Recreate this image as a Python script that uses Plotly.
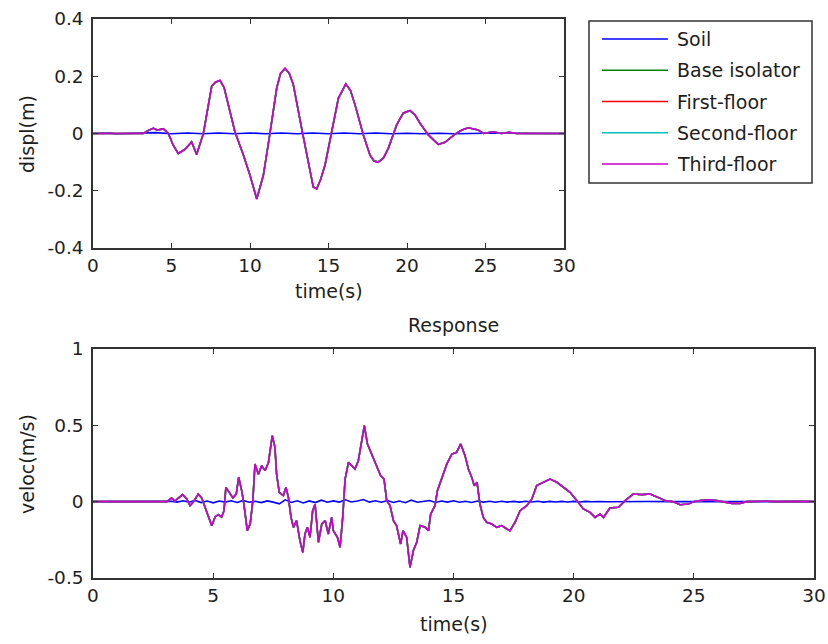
import plotly.graph_objects as go

W, H = 828, 644

# ---------------- data ----------------
series_names = ["Soil", "Base isolator", "First-floor", "Second-floor", "Third-floor"]
series_colors = ["#0000FF", "#008000", "#FF0000", "#00BFBF", "#CC00CC"]

# structure displacement (all floors overlap almost exactly)
disp_t = [0, 3.2, 3.5, 3.84, 4.1, 4.48, 4.8, 5.1, 5.43, 5.86, 6.28, 6.6, 7.03, 7.3, 7.56, 7.8,
          8.09, 8.35, 8.62, 9.04, 9.58, 10.0, 10.43, 10.85, 11.27, 11.7, 11.95, 12.23, 12.5,
          12.76, 13.29, 13.7, 14.03, 14.25, 14.5, 14.78, 15.2, 15.63, 16.1, 16.4, 16.69, 17.22,
          17.64, 17.9, 18.17, 18.5, 18.81, 19.34, 19.76, 20.19, 20.5, 20.83, 21.36, 21.99, 22.42,
          23.06, 23.5, 23.9, 24.54, 24.86, 25.5, 26.0, 26.5, 27.0, 28.5, 30]
disp_base = [0, 0, 0.01, 0.018, 0.012, 0.016, 0, -0.04, -0.069, -0.055, -0.029, -0.072, 0, 0.08,
             0.164, 0.178, 0.184, 0.16, 0.10, 0.006, -0.075, -0.145, -0.227, -0.145, 0, 0.158,
             0.21, 0.226, 0.21, 0.17, 0.018, -0.10, -0.186, -0.192, -0.16, -0.11, 0.006, 0.123,
             0.172, 0.15, 0.10, -0.005, -0.075, -0.095, -0.099, -0.085, -0.052, 0.03, 0.071,
             0.079, 0.065, 0.036, -0.005, -0.038, -0.031, -0.002, 0.012, 0.02, 0.012, 0, 0.006,
             0, 0.004, 0, 0, 0]
disp_first = [0, 0, 0.01, 0.018, 0.012, 0.016, 0, -0.04, -0.07, -0.055, -0.029, -0.073, 0, 0.08,
              0.165, 0.179, 0.185, 0.16, 0.10, 0.006, -0.075, -0.146, -0.228, -0.146, 0, 0.158,
              0.21, 0.227, 0.21, 0.17, 0.018, -0.10, -0.187, -0.193, -0.16, -0.11, 0.006, 0.123,
              0.173, 0.15, 0.10, -0.005, -0.075, -0.096, -0.1, -0.085, -0.052, 0.03, 0.071,
              0.08, 0.065, 0.036, -0.005, -0.038, -0.031, -0.002, 0.012, 0.02, 0.012, 0, 0.006,
              0, 0.004, 0, 0, 0]
disp_second = disp_first
disp_third = [0, 0, 0.01, 0.019, 0.012, 0.017, 0, -0.04, -0.07, -0.056, -0.03, -0.074, 0, 0.08,
              0.166, 0.18, 0.186, 0.161, 0.10, 0.006, -0.076, -0.147, -0.23, -0.147, 0, 0.159,
              0.211, 0.228, 0.211, 0.171, 0.018, -0.10, -0.188, -0.194, -0.161, -0.11, 0.006,
              0.124, 0.174, 0.151, 0.10, -0.005, -0.076, -0.097, -0.101, -0.086, -0.052, 0.03,
              0.072, 0.081, 0.066, 0.036, -0.005, -0.039, -0.031, -0.002, 0.012, 0.02, 0.012, 0,
              0.006, 0, 0.004, 0, 0, 0]

soil_disp_t = [0, 1, 1.5, 3, 4, 5, 6, 7, 8, 9, 10, 11, 12, 13, 14, 15, 16, 17, 18, 19, 20, 21,
               22, 23, 25, 30]
soil_disp = [0, 0.002, -0.001, 0.001, 0.003, -0.001, 0.002, -0.001, 0.002, -0.001, 0.002,
             -0.001, 0.002, -0.001, 0.002, -0.001, 0.002, -0.001, 0.002, -0.001, 0.001, -0.001,
             0.001, -0.001, 0.001, 0]

# structure velocity
vel_t = [0, 3.07, 3.27, 3.41, 3.55, 3.73, 3.9, 4.04, 4.18, 4.38, 4.52, 4.66, 4.8, 4.94, 5.08,
         5.21, 5.35, 5.45, 5.53, 5.7, 5.82, 5.96, 6.06, 6.19, 6.28, 6.42, 6.54, 6.65, 6.74, 6.88,
         7.02, 7.16, 7.3, 7.37, 7.46, 7.57, 7.64, 7.75, 7.92, 8.03, 8.13, 8.24, 8.34, 8.47, 8.61,
         8.73, 8.82, 8.92, 9.03, 9.14, 9.24, 9.38, 9.52, 9.66, 9.79, 9.93, 10.0, 10.17, 10.28,
         10.39, 10.49, 10.63, 10.77, 10.9, 11.04, 11.18, 11.29, 11.42, 11.6, 11.8, 11.97, 12.11,
         12.22, 12.36, 12.5, 12.63, 12.8, 12.9, 13.05, 13.19, 13.33, 13.47, 13.61, 13.82, 13.96,
         14.05, 14.23, 14.33, 14.51, 14.72, 14.93, 15.13, 15.3, 15.48, 15.62, 15.76, 15.86, 15.98,
         16.1, 16.24, 16.38, 16.59, 16.8, 17.01, 17.22, 17.35, 17.56, 17.77, 18.05, 18.26, 18.46,
         18.74, 19.02, 19.3, 19.57, 19.85, 20.13, 20.4, 20.68, 20.89, 21.1, 21.24, 21.51, 21.86,
         22.14, 22.48, 22.83, 23.18, 23.52, 23.8, 24.15, 24.43, 24.77, 24.98, 25.26, 25.6, 25.95,
         26.23, 26.58, 26.92, 27.2, 28.0, 28.5, 29.2, 30]
vel_struct = [0, 0, 0.024, 0.004, 0.024, 0.046, 0.018, -0.026, 0, 0.05, 0.025, -0.037, -0.10,
              -0.157, -0.10, -0.085, -0.10, -0.06, 0.094, 0.05, 0.025, 0.05, 0.16, 0.07, -0.017,
              -0.19, -0.146, 0.005, 0.247, 0.18, 0.236, 0.203, 0.257, 0.334, 0.432, 0.356, 0.18,
              0.061, 0.04, 0.094, 0.028, -0.103, -0.168, -0.124, -0.255, -0.332, -0.212, -0.168,
              -0.233, -0.059, -0.017, -0.266, -0.146, -0.124, -0.212, -0.103, -0.19, -0.233,
              -0.299, -0.103, 0.148, 0.257, 0.236, 0.214, 0.268, 0.40, 0.498, 0.378, 0.312, 0.236,
              0.17, 0.148, 0.007, -0.026, -0.124, -0.157, -0.277, -0.19, -0.233, -0.43, -0.32,
              -0.266, -0.157, -0.168, -0.19, -0.081, -0.026, 0.072, 0.159, 0.246, 0.312, 0.323,
              0.378, 0.301, 0.214, 0.159, 0.105, 0.127, -0.017, -0.103, -0.135, -0.146, -0.168,
              -0.157, -0.179, -0.19, -0.135, -0.059, -0.026, 0.018, 0.105, 0.127, 0.148, 0.127,
              0.094, 0.061, 0.007, -0.048, -0.07, -0.103, -0.081, -0.103, -0.041, -0.037, 0.007,
              0.05, 0.046, 0.05, 0.028, 0.007, 0, -0.02, -0.015, 0, 0.007, 0.013, 0.007, 0,
              -0.011, -0.011, 0, 0.003, 0, 0.002, 0]

soil_vel_t = [0, 3.0, 3.25, 3.5, 3.75, 4.0, 4.25, 4.5, 4.75, 5.0, 5.25, 5.5, 5.75, 6.0, 6.25, 6.5,
              6.75, 7.0, 7.25, 7.5, 7.75, 8.0, 8.25, 8.5, 8.75, 9.0, 9.25, 9.5, 9.75, 10.0, 10.25,
              10.5, 10.75, 11.0, 11.25, 11.5, 11.75, 12.0, 12.25, 12.5, 12.75, 13.0, 13.25, 13.5,
              13.75, 14.0, 14.25, 14.5, 14.75, 15.0, 15.25, 15.5, 15.75, 16.0, 16.25, 16.5, 16.75,
              17.0, 17.25, 17.5, 17.75, 18.0, 18.25, 18.5, 18.75, 19.0, 19.25, 19.5, 19.75, 20.0,
              20.25, 20.5, 20.75, 21.0, 21.5, 22.0, 22.5, 23.0, 24.0, 30]
soil_vel = [0, 0, 0.003, -0.003, 0.006, -0.004, 0.008, -0.006, 0.004, -0.008, 0.004, -0.003,
            0.006, -0.005, 0.008, -0.004, 0.003, -0.006, 0.005, -0.003, -0.014, 0.012, -0.005,
            0.006, -0.008, 0.005, -0.006, 0.01, -0.004, 0.005, -0.003, 0.012, -0.002, 0.004,
            0.014, -0.003, 0.006, -0.004, 0.007, -0.005, 0.004, -0.007, 0.01, -0.004, 0.003,
            0.008, -0.005, 0.004, -0.003, 0.006, -0.004, 0.003, -0.005, 0.004, -0.003, 0.003,
            -0.004, 0.003, -0.003, 0.002, -0.003, 0.003, -0.002, 0.003, -0.003, 0.002, -0.002,
            0.002, -0.002, 0.002, -0.002, 0.002, -0.001, 0.001, -0.001, 0.001, -0.001, 0.001,
            0, 0]

x_ticks = [0, 5, 10, 15, 20, 25, 30]
x_ticklabels = ["0", "5", "10", "15", "20", "25", "30"]
disp_ticks = [-0.4, -0.2, 0, 0.2, 0.4]
disp_ticklabels = ["-0.4", "-0.2", "0", "0.2", "0.4"]
vel_ticks = [-0.5, 0, 0.5, 1]
vel_ticklabels = ["-0.5", "0", "0.5", "1"]

# ---------------- figure ----------------
FONT = "DejaVu Sans"
TXT = "#1e1e1e"
AX = "#333333"
LW = 1.6

fig = go.Figure()

disp_series = [(soil_disp_t, soil_disp), (disp_t, disp_base), (disp_t, disp_first),
               (disp_t, disp_second), (disp_t, disp_third)]
vel_series = [(soil_vel_t, soil_vel), (vel_t, vel_struct), (vel_t, vel_struct),
              (vel_t, vel_struct), (vel_t, vel_struct)]

for (tx, ty), name, col in zip(disp_series, series_names, series_colors):
    fig.add_trace(go.Scatter(x=tx, y=ty, mode="lines", name=name,
                             line=dict(color=col, width=LW), showlegend=False,
                             xaxis="x", yaxis="y"))
for (tx, ty), name, col in zip(vel_series, series_names, series_colors):
    fig.add_trace(go.Scatter(x=tx, y=ty, mode="lines", name=name,
                             line=dict(color=col, width=LW), showlegend=False,
                             xaxis="x2", yaxis="y2"))

# plot-area pixel boxes
top_box = (93, 564, 19, 248)
bot_box = (93, 814, 349, 578)


def dom_x(b):
    return [b[0] / W, b[1] / W]


def dom_y(b):
    return [1 - b[3] / H, 1 - b[2] / H]


axis_common = dict(showgrid=False, zeroline=False, showline=True, linecolor=AX, linewidth=1.5,
                   mirror="ticks", ticks="inside", ticklen=5, tickwidth=1.2, tickcolor=AX,
                   automargin=False,
                   tickfont=dict(family=FONT, size=18.5, color=TXT))

fig.update_layout(
    width=W, height=H, margin=dict(l=0, r=0, t=0, b=0, pad=0), autosize=False,
    showlegend=False,
    paper_bgcolor="white", plot_bgcolor="white",
    xaxis=dict(domain=dom_x(top_box), anchor="y", range=[0, 30], tickvals=x_ticks,
               ticktext=x_ticklabels, **axis_common),
    yaxis=dict(domain=dom_y(top_box), anchor="x", range=[-0.4, 0.4], tickvals=disp_ticks,
               ticktext=disp_ticklabels, ticklabelstandoff=4, **axis_common),
    xaxis2=dict(domain=dom_x(bot_box), anchor="y2", range=[0, 30], tickvals=x_ticks,
                ticktext=x_ticklabels, **axis_common),
    yaxis2=dict(domain=dom_y(bot_box), anchor="x2", range=[-0.5, 1], tickvals=vel_ticks,
                ticktext=vel_ticklabels, ticklabelstandoff=4, **axis_common),
)

ann_font = dict(family=FONT, size=19, color=TXT)
annotations = [
    dict(text="time(s)", x=(top_box[0] + top_box[1]) / 2 / W, y=1 - 291 / H, xref="paper",
         yref="paper", xanchor="center", yanchor="middle", showarrow=False, font=ann_font),
    dict(text="time(s)", x=(bot_box[0] + bot_box[1]) / 2 / W, y=1 - 624 / H, xref="paper",
         yref="paper", xanchor="center", yanchor="middle", showarrow=False, font=ann_font),
    dict(text="displ(m)", x=27 / W, y=1 - 134 / H, xref="paper", yref="paper",
         xanchor="center", yanchor="middle", textangle=-90, showarrow=False, font=ann_font),
    dict(text="veloc(m/s)", x=27 / W, y=1 - 464 / H, xref="paper", yref="paper",
         xanchor="center", yanchor="middle", textangle=-90, showarrow=False, font=ann_font),
    dict(text="Response", x=(bot_box[0] + bot_box[1]) / 2 / W, y=1 - 325 / H, xref="paper",
         yref="paper", xanchor="center", yanchor="middle", showarrow=False, font=ann_font),
]

# manual legend (MATLAB-style long line samples)
leg_box = (589, 812, 21, 183)
shapes = [dict(type="rect", xref="paper", yref="paper", x0=leg_box[0] / W, x1=leg_box[1] / W,
               y0=1 - leg_box[3] / H, y1=1 - leg_box[2] / H,
               line=dict(color=AX, width=1.5), fillcolor="white", layer="above")]
for i, (name, col) in enumerate(zip(series_names, series_colors)):
    yy = 1 - (39 + i * 31.25) / H
    shapes.append(dict(type="line", xref="paper", yref="paper", x0=602 / W, x1=668 / W,
                       y0=yy, y1=yy, line=dict(color=col, width=LW), layer="above"))
    annotations.append(dict(text=name, x=675 / W, y=yy, xref="paper", yref="paper",
                            xanchor="left", yanchor="middle", showarrow=False,
                            font=dict(family=FONT, size=19, color=TXT)))

fig.update_layout(shapes=shapes, annotations=annotations)

fig.write_html("out.html",
               post_script="document.body.style.margin='0';"
                           "document.body.style.overflow='hidden';"
                           "document.documentElement.style.overflow='hidden';")
